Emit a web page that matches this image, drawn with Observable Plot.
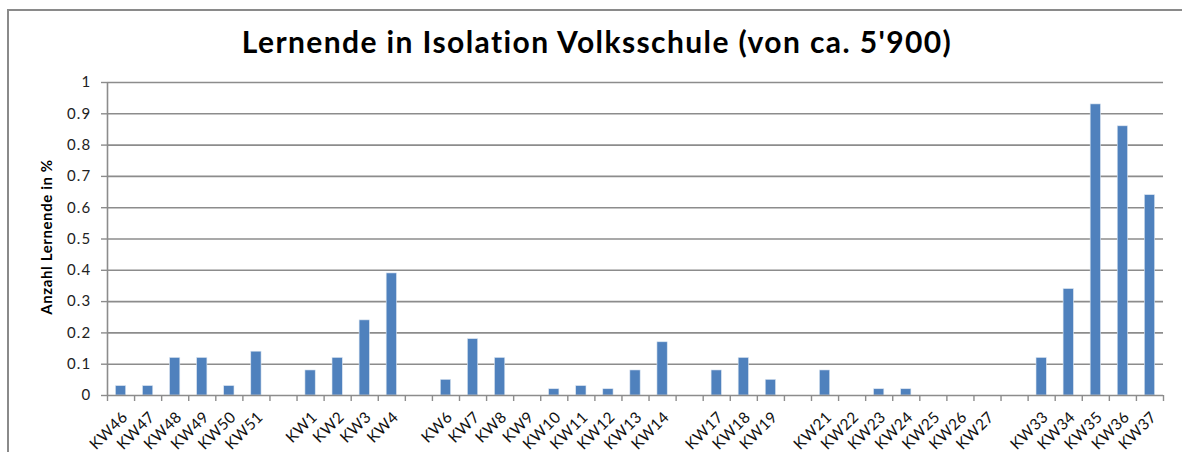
<!DOCTYPE html>
<html>
<head>
<meta charset="utf-8">
<script src="https://cdn.jsdelivr.net/npm/d3@7"></script>
<script src="https://cdn.jsdelivr.net/npm/@observablehq/plot@0.6"></script>
<style>
  html, body { margin: 0; padding: 0; background: #fff; }
  #wrap { position: relative; width: 1182px; height: 452px; overflow: hidden; font-family: Lato, "Open Sans", sans-serif; }
  #frame { position: absolute; left: 7px; top: 9px; width: 1300px; height: 600px; border-left: 2px solid #8a8a8a; border-top: 2px solid #8a8a8a; }
  #title { position: absolute; left: 0; width: 1194px; top: 26px; line-height: 30px; text-align: center; font-size: 30px; letter-spacing: 1.4px; font-weight: bold; color: #000; }
  #ylab { position: absolute; left: 46px; top: 237px; transform: translate(-50%, -50%) rotate(-90deg); white-space: nowrap; font-size: 15px; letter-spacing: 0.6px; font-weight: bold; color: #000; }
  #chart { position: absolute; left: 0; top: 0; }
</style>
</head>
<body>
<div id="wrap">
  <div id="frame"></div>
  <div id="chart"></div>
  <div id="title">Lernende in Isolation Volksschule (von ca. 5'900)</div>
  <div id="ylab">Anzahl Lernende in %</div>
</div>
<script>
const categories = ["KW46","KW47","KW48","KW49","KW50","KW51","",
  "KW1","KW2","KW3","KW4","",
  "KW6","KW7","KW8","KW9","KW10","KW11","KW12","KW13","KW14","",
  "KW17","KW18","KW19","",
  "KW21","KW22","KW23","KW24","KW25","KW26","KW27","",
  "KW33","KW34","KW35","KW36","KW37"];
const values = [0.03,0.03,0.12,0.12,0.03,0.14,null,
  0.08,0.12,0.24,0.39,null,
  0.05,0.18,0.12,0,0.02,0.03,0.02,0.08,0.17,null,
  0.08,0.12,0.05,null,
  0.08,0,0.02,0.02,0,0,0,null,
  0.12,0.34,0.93,0.86,0.64];
const yTicks = [0,0.1,0.2,0.3,0.4,0.5,0.6,0.7,0.8,0.9,1];

const data = categories.map((label, i) => ({i, label, value: values[i]}));
const n = categories.length;

const chart = Plot.plot({
  width: 1182,
  height: 452,
  marginLeft: 107,
  marginRight: 19,
  marginTop: 82,
  marginBottom: 57,
  style: {fontFamily: "Lato, 'Open Sans', sans-serif", background: "transparent"},
  x: {domain: [0, n], axis: null},
  y: {domain: [0, 1], axis: null},
  marks: [
    Plot.gridY(yTicks.slice(1), {stroke: "#8c8c8c", strokeOpacity: 1, strokeWidth: 1.6}),
    Plot.rectY(data.filter(d => d.value != null && d.value > 0), {
      x1: "i", x2: d => d.i + 1, y: "value",
      insetLeft: 8.4, insetRight: 8.4,
      fill: "#4F81BD", stroke: "#dbe5f1", strokeWidth: 0.6
    }),
    Plot.ruleY([0], {stroke: "#8c8c8c", strokeWidth: 1.6}),
    Plot.ruleX([0], {stroke: "#8c8c8c", strokeWidth: 1.6}),
    Plot.axisX(d3.range(0, n + 1), {tickFormat: () => "", tickSize: 6, stroke: "#8c8c8c", strokeWidth: 1.4, label: null}),
    Plot.axisY(yTicks, {
      tickFormat: d => String(+d.toFixed(1)),
      tickSize: 6, tickPadding: 10, stroke: "#8c8c8c", strokeWidth: 1.4,
      fontSize: 15, fill: "#222", label: null
    }),
    Plot.text(data.filter(d => d.label !== ""), {
      x: d => d.i + 0.5, y: 0, text: "label",
      rotate: -45, textAnchor: "end", dx: 4, dy: 19,
      fontSize: 15.5, fill: "#111"
    })
  ]
});
d3.select(chart).selectAll('g[aria-label="y-axis tick label"] text').attr("letter-spacing", "1.2");
d3.select(chart).selectAll('g[aria-label="text"] text').attr("letter-spacing", "0.4");
document.getElementById("chart").append(chart);
</script>
</body>
</html>
